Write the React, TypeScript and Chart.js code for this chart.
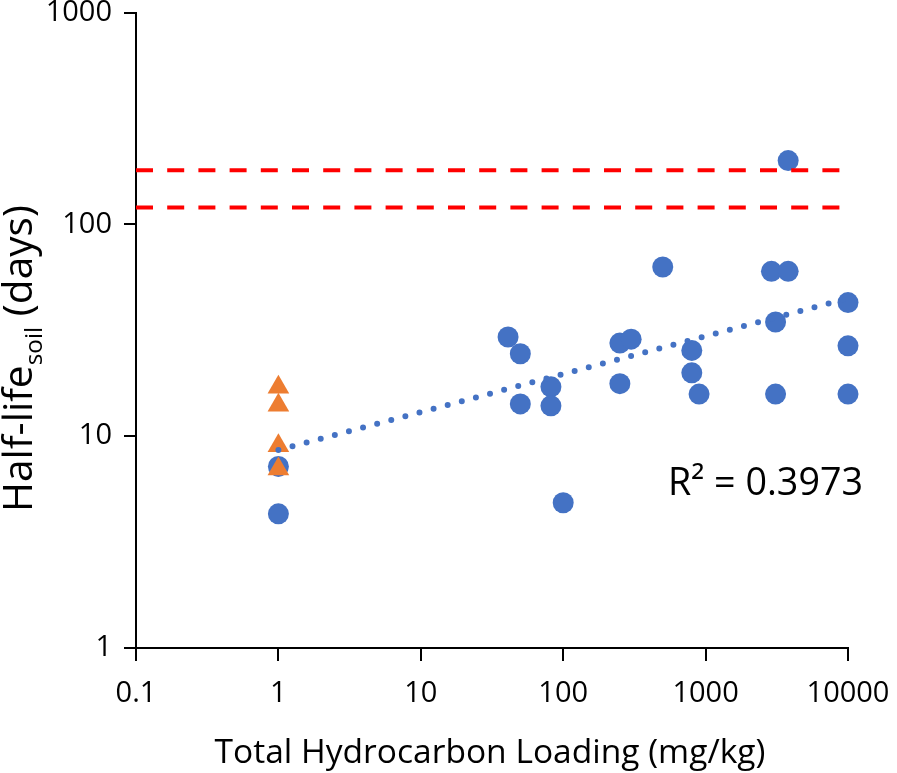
import React, { useEffect, useRef } from 'react';
import { Chart, registerables } from 'chart.js';

Chart.register(...registerables);

const FONT = "'Open Sans', 'Liberation Sans', sans-serif";

// Blue circles (Total hydrocarbon loading mg/kg, half-life days)
const circleX = [1, 1, 41, 50, 50, 82, 82, 100, 250, 300, 250, 500, 800, 800, 900, 2900, 3800, 3800, 3100, 3100, 10000, 10000, 10000];
const circleY = [7.2, 4.3, 29.4, 24.5, 14.2, 17.1, 13.9, 4.85, 27.5, 28.7, 17.7, 62.9, 25.4, 19.9, 15.8, 60, 60, 200, 34.6, 15.8, 42.7, 26.7, 15.8];

// Orange triangles
const triangleX = [1, 1, 1, 1];
const triangleY = [17, 14, 9, 7];

// Power trend line end points
const trendX = [1, 10000];
const trendY = [8.6, 44.8];

// Persistence criteria (red dashed)
const limitX = [0.1, 10000];
const limitUpperY = [180, 180];
const limitLowerY = [120, 120];

const xTicks = [0.1, 1, 10, 100, 1000, 10000];
const xTickLabels = ['0.1', '1', '10', '100', '1000', '10000'];
const yTicks = [1, 10, 100, 1000];
const yTickLabels = ['1', '10', '100', '1000'];

const xTitle = 'Total Hydrocarbon Loading (mg/kg)';
const yTitleMain = 'Half-life';
const yTitleSub = 'soil';
const yTitleEnd = ' (days)';
const rSquaredText = 'R\u00B2 = 0.3973';

const pts = (xs: number[], ys: number[]) => xs.map((x, i) => ({ x, y: ys[i] }));

export default function App() {
  const ref = useRef<HTMLCanvasElement>(null);

  useEffect(() => {
    const canvas = ref.current!;

    const fit = (ctx: CanvasRenderingContext2D, text: string, target: number, base: number) => {
      ctx.font = `${base}px ${FONT}`;
      const w = ctx.measureText(text).width;
      return (base * target) / w;
    };

    const textPlugin = {
      id: 'customText',
      afterDraw(chart: any) {
        const ctx: CanvasRenderingContext2D = chart.ctx;
        const area = chart.chartArea;
        ctx.save();
        ctx.fillStyle = '#000';

        // X axis title
        const xs = fit(ctx, xTitle, 551, 30);
        ctx.font = `${xs}px ${FONT}`;
        ctx.textAlign = 'center';
        ctx.textBaseline = 'alphabetic';
        ctx.fillText(xTitle, (area.left + area.right) / 2 - 2, 763);

        // R squared
        const rs = fit(ctx, rSquaredText, 195, 32);
        ctx.font = `${rs}px ${FONT}`;
        ctx.textAlign = 'left';
        ctx.fillText(rSquaredText, area.right - 180, 495);

        // Y axis title (rotated, with subscript)
        const total = 307;
        const subRatio = 0.6;
        const measure = (m: number) => {
          ctx.font = `${m}px ${FONT}`;
          const a = ctx.measureText(yTitleMain).width;
          const c = ctx.measureText(yTitleEnd).width;
          ctx.font = `${m * subRatio}px ${FONT}`;
          const b = ctx.measureText(yTitleSub).width;
          return { a, b, c, t: a + b + c };
        };
        const m0 = measure(40);
        const m = (40 * total) / m0.t;
        const mm = measure(m);
        ctx.translate(31.5, 358.5);
        ctx.rotate(-Math.PI / 2);
        ctx.textAlign = 'left';
        let u = -mm.t / 2;
        ctx.font = `${m}px ${FONT}`;
        ctx.fillText(yTitleMain, u, 0);
        u += mm.a;
        ctx.font = `${m * subRatio}px ${FONT}`;
        ctx.fillText(yTitleSub, u, m * 0.25);
        u += mm.b;
        ctx.font = `${m}px ${FONT}`;
        ctx.fillText(yTitleEnd, u, 0);
        ctx.restore();
      },
    };

    const chart = new Chart(canvas, {
      type: 'scatter',
      data: {
        datasets: [
          {
            label: 'Upper limit',
            data: pts(limitX, limitUpperY),
            showLine: true,
            borderColor: '#FF0000',
            backgroundColor: '#FF0000',
            borderWidth: 4,
            borderDash: [17, 14.2],
            pointRadius: 0,
            order: 0,
            clip: false,
          } as any,
          {
            label: 'Lower limit',
            data: pts(limitX, limitLowerY),
            showLine: true,
            borderColor: '#FF0000',
            backgroundColor: '#FF0000',
            borderWidth: 4,
            borderDash: [17, 14.2],
            pointRadius: 0,
            order: 0,
            clip: false,
          },
          {
            label: 'Trend',
            data: pts(trendX, trendY),
            showLine: true,
            borderColor: '#4472C4',
            backgroundColor: '#4472C4',
            borderWidth: 6,
            borderDash: [0, 14.6],
            borderCapStyle: 'round',
            pointRadius: 0,
            order: 1,
            clip: false,
          },
          {
            label: 'Triangles',
            data: pts(triangleX, triangleY),
            pointStyle: 'triangle',
            pointRadius: 12.5,
            backgroundColor: '#ED7D31',
            borderColor: '#ED7D31',
            borderWidth: 0,
            order: 2,
            clip: false,
          },
          {
            label: 'Circles',
            data: pts(circleX, circleY),
            pointStyle: 'circle',
            pointRadius: 10.5,
            backgroundColor: '#4472C4',
            borderColor: '#4472C4',
            borderWidth: 0,
            order: 3,
            clip: false,
          },
        ],
      },
      options: {
        responsive: false,
        animation: false,
        events: [],
        devicePixelRatio: 1,
        layout: { padding: { top: 12, right: 49, left: 0, bottom: 0 } },
        plugins: {
          legend: { display: false },
          tooltip: { enabled: false },
        },
        scales: {
          x: {
            type: 'logarithmic',
            position: 'bottom',
            min: 0.1,
            max: 10000,
            afterBuildTicks: (s: any) => {
              s.ticks = xTicks.map((v) => ({ value: v }));
            },
            afterFit: (s: any) => {
              s.height = 125;
              s.paddingLeft = 0;
              s.paddingRight = 0;
            },
            ticks: {
              autoSkip: false,
              maxRotation: 0,
              color: '#000',
              padding: 15,
              font: { family: FONT, size: 29 },
              callback: (_v: any, i: number) => xTickLabels[i],
            },
            grid: {
              display: true,
              drawOnChartArea: false,
              drawTicks: true,
              tickLength: 13,
              tickWidth: 2,
              color: '#000',
              lineWidth: 2,
            },
            border: { display: true, color: '#000', width: 2 },
          },
          y: {
            type: 'logarithmic',
            position: 'left',
            min: 1,
            max: 1000,
            afterBuildTicks: (s: any) => {
              s.ticks = yTicks.map((v) => ({ value: v }));
            },
            afterFit: (s: any) => {
              s.width = 136;
              s.paddingTop = 0;
              s.paddingBottom = 0;
            },
            ticks: {
              autoSkip: false,
              color: '#000',
              padding: 12,
              font: { family: FONT, size: 29 },
              callback: (_v: any, i: number) => yTickLabels[i],
            },
            grid: {
              display: true,
              drawOnChartArea: false,
              drawTicks: true,
              tickLength: 12,
              tickWidth: 2,
              color: '#000',
              lineWidth: 2,
            },
            border: { display: true, color: '#000', width: 2 },
          },
        },
      } as any,
      plugins: [textPlugin],
    });

    return () => chart.destroy();
  }, []);

  return (
    <div style={{ position: 'absolute', left: 0, top: 0, width: 897, height: 773, background: '#fff' }}>
      <canvas ref={ref} width={897} height={773} style={{ display: 'block', width: 897, height: 773 }} />
    </div>
  );
}
